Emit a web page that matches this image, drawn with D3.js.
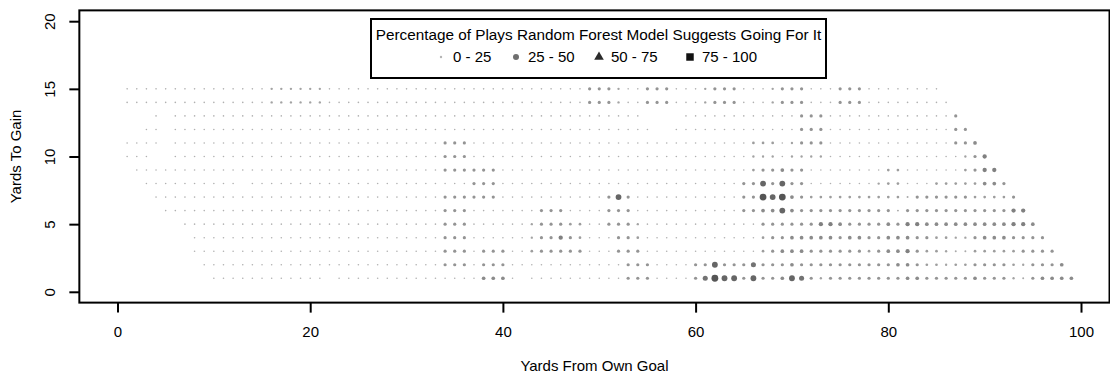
<!DOCTYPE html>
<html>
<head>
<meta charset="utf-8">
<script src="https://cdn.jsdelivr.net/npm/d3@7"></script>
<style>
  html, body { margin: 0; padding: 0; background: #fff; }
  svg { display: block; font-family: "Liberation Sans", Arial, Helvetica, sans-serif; }
</style>
</head>
<body>
<svg id="chart" width="1110" height="377"></svg>
<script>
// Dati: una riga per "yards to gain" (1..15), un carattere per yard dalla propria end zone (1..99)
// "." = nessuna giocata, cifra = livello della percentuale "go for it"
const yardsFromGoal = d3.range(1, 100);
const yardsToGain = [1, 2, 3, 4, 5, 6, 7, 8, 9, 10, 11, 12, 13, 14, 15];
const playShare = [
  ".........0 0000000000 0.00000000 0000000555 0.00000000 0044400004 7988484458 7424444444 4554444454 442145555",
  "........00 0000000000 0000000000 0004440444 0000000000 0044400004 4844474445 4444444444 5543323344 44324445.",
  ".......000 0000000000 0000000000 0004440444 0034444400 0444000000 0000003455 5444444345 5643321133 3334444..",
  ".......000 0000000000 0000000000 0004440000 0024464300 0443000000 0000003445 5555455445 5544332245 554444...",
  "......0000 0000000000 0000000000 0004440000 0024443300 4442000000 0000004444 4466544445 4665555555 55665....",
  "....000000 0000000000 0000000000 0004440000 0004440000 4440000000 0000445585 4444444444 1444444444 4466.....",
  "...0000000 0000000000 0000000000 0004444440 0000000000 4840000000 0000449895 4333333333 3144444433 334......",
  "..00000000 00.0000000 0000000000 0000004440 0000000000 0000000000 0000448484 4000000023 3000333335 54.......",
  ".000000000 0000000000 0000000000 0004444440 0000000000 0000000000 0000034454 4000000003 3000000346 6........",
  "000..00000 0000000000 0000000000 0004440000 0000000000 0000000000 0000022202 2220000000 0000000246 .........",
  "0000.00000 0000000000 0000000000 0004440000 0000000000 0000000000 0000033302 4440000000 000000445. .........",
  "..00.00000 0000000000 0000000000 0000000000 0000000000 00000..000 0000000000 4440000000 00000044.. .........",
  "...0.00000 0000000000 0000000000 0000000000 0000000000 0000....00 0000000000 4440000000 0000004... .........",
  "0000000000 0000022222 2000000000 0000000000 0000000044 4200444000 2444000244 4000444000 000000.... .........",
  "0000000000 0000022222 2000000000 0000000000 0000000044 4200444000 2444000244 4000444000 00000..... ........."
];
// percentuale stimata per ogni livello
const levelPct = [2, 5, 8, 11, 15, 19, 24, 30, 36, 44];

const xTicks = [0, 20, 40, 60, 80, 100];
const yTicks = [0, 5, 10, 15, 20];
const legendTitle = "Percentage of Plays Random Forest Model Suggests Going For It";
const legendLabels = ["0 - 25", "25 - 50", "50 - 75", "75 - 100"];

const svg = d3.select("#chart");
const fontSize = 15;

const x = d3.scaleLinear().domain([0, 100]).range([117.5, 1081]);
const y = d3.scaleLinear().domain([0, 20]).range([291.8, 21.2]);
const plotLeft = x(-3.96), plotRight = x(102.96), plotTop = y(20.8), plotBottom = y(-0.8);

const r = d3.scaleLinear().domain([2, 44]).range([0.8, 3.4]);
const col = d3.scaleLinear().domain([2, 44]).range(["#b0b0b0", "#555555"]);

// costruisce i punti dalla griglia
const points = [];
yardsToGain.forEach((g, i) => {
  const row = playShare[i].replace(/ /g, "");
  yardsFromGoal.forEach((yd, j) => {
    const c = row[j];
    if (c && c !== ".") points.push({ yd, g, pct: levelPct[+c] });
  });
});
points.sort((a, b) => a.pct - b.pct);

svg.append("g")
  .selectAll("circle")
  .data(points)
  .join("circle")
  .attr("cx", (d) => x(d.yd))
  .attr("cy", (d) => y(d.g))
  .attr("r", (d) => r(d.pct))
  .attr("fill", (d) => col(d.pct));

// assi
const xAxis = svg.append("g")
  .attr("transform", `translate(0,${plotBottom})`)
  .call(d3.axisBottom(x).tickValues(xTicks).tickSize(10).tickPadding(14).tickFormat(d3.format("d")));
xAxis.select(".domain").remove();
xAxis.selectAll("line").attr("stroke", "#000").attr("stroke-width", 2);
xAxis.selectAll("text").attr("font-size", fontSize).attr("font-family", null).attr("fill", "#000");

const yAxis = svg.append("g")
  .attr("transform", `translate(${plotLeft},0)`)
  .call(d3.axisLeft(y).tickValues(yTicks).tickSize(10).tickFormat(d3.format("d")));
yAxis.select(".domain").remove();
yAxis.selectAll("line").attr("stroke", "#000").attr("stroke-width", 2);
yAxis.selectAll("text")
  .attr("font-size", fontSize)
  .attr("font-family", null)
  .attr("fill", "#000")
  .attr("text-anchor", "middle")
  .attr("transform", "rotate(-90)")
  .attr("x", 0)
  .attr("y", -24)
  .attr("dy", null);

// riquadro
svg.append("rect")
  .attr("x", plotLeft).attr("y", plotTop)
  .attr("width", plotRight - plotLeft).attr("height", plotBottom - plotTop)
  .attr("fill", "none").attr("stroke", "#000").attr("stroke-width", 2);

// titoli assi
svg.append("text")
  .attr("x", (plotLeft + plotRight) / 2).attr("y", 371)
  .attr("text-anchor", "middle").attr("font-size", fontSize)
  .text("Yards From Own Goal");
svg.append("text")
  .attr("transform", `translate(21,${(plotTop + plotBottom) / 2}) rotate(-90)`)
  .attr("text-anchor", "middle").attr("font-size", fontSize)
  .text("Yards To Gain");

// legenda
const lg = svg.append("g");
lg.append("rect")
  .attr("x", 371).attr("y", 19).attr("width", 455).attr("height", 59)
  .attr("fill", "#fff").attr("stroke", "#000").attr("stroke-width", 2);
lg.append("text")
  .attr("x", 598.5).attr("y", 39.5)
  .attr("text-anchor", "middle").attr("font-size", 15.3)
  .text(legendTitle);

const legendSymX = [441, 516, 599, 690];
const legendSym = [
  { type: d3.symbolCircle, size: Math.PI * 1.2 * 1.2, fill: "#b5b5b5" },
  { type: d3.symbolCircle, size: Math.PI * 3 * 3, fill: "#6f6f6f" },
  { type: d3.symbolTriangle, size: 40, fill: "#2b2b2b" },
  { type: d3.symbolSquare, size: 56, fill: "#111" }
];
legendLabels.forEach((lab, i) => {
  lg.append("path")
    .attr("d", d3.symbol().type(legendSym[i].type).size(legendSym[i].size))
    .attr("transform", `translate(${legendSymX[i]},57)`)
    .attr("fill", legendSym[i].fill);
  lg.append("text")
    .attr("x", legendSymX[i] + 12).attr("y", 62.4)
    .attr("font-size", fontSize)
    .text(lab);
});
</script>
</body>
</html>
